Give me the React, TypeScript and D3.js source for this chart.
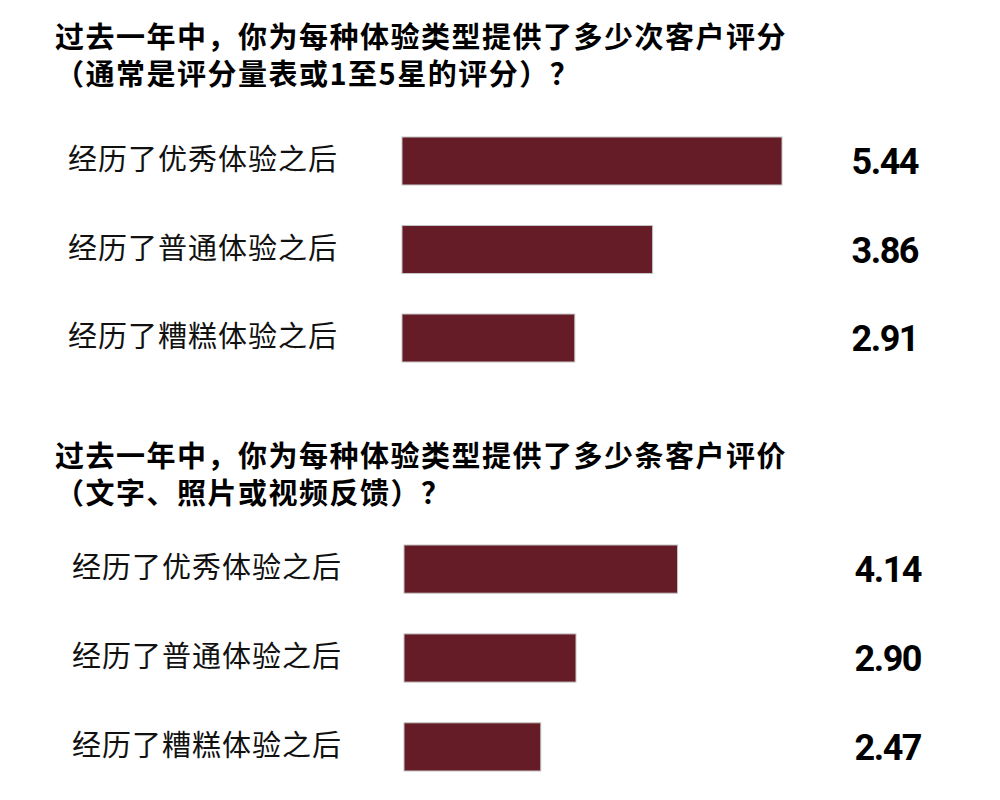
import { useRef, useEffect } from 'react';
import * as d3 from 'd3';

const categories = ['经历了优秀体验之后', '经历了普通体验之后', '经历了糟糕体验之后'];
const ratingValues = [5.44, 3.86, 2.91];
const reviewValues = [4.14, 2.90, 2.47];
const ratingTitle = ['过去一年中，你为每种体验类型提供了多少次客户评分', '（通常是评分量表或1至5星的评分）？'];
const reviewTitle = ['过去一年中，你为每种体验类型提供了多少条客户评价', '（文字、照片或视频反馈）？'];

const W = 1000;
const H = 800;
const barColor = '#661c27';
const cjk = '"Noto Sans CJK SC", "Noto Sans", sans-serif';

const App = () => {
    const svgRef = useRef<SVGSVGElement | null>(null);

    useEffect(() => {
        if (!svgRef.current) return;
        const svg = d3.select(svgRef.current);
        svg.selectAll('*').remove();

        // shared length scale for both panels
        const x = d3.scaleLinear().domain([0.8, 5.44]).range([0, 380]);

        const panels = [
            { title: ratingTitle, values: ratingValues, titleY: [37, 74], band: [137, 362], barX: 402, labelX: 68, valueX: 918 },
            { title: reviewTitle, values: reviewValues, titleY: [456, 493], band: [545, 771], barX: 404, labelX: 72, valueX: 921 },
        ];

        panels.forEach(p => {
            const g = svg.append('g');

            g.selectAll('.title')
                .data(p.title)
                .join('text')
                .attr('class', 'title')
                .attr('x', 55)
                .attr('y', (_, i) => p.titleY[i] + 11)
                .style('font-family', cjk)
                .style('font-weight', 700)
                .style('font-size', '29px')
                .style('letter-spacing', '1.5px')
                .attr('fill', '#000')
                .text(d => d);

            const y = d3.scaleBand<string>()
                .domain(categories)
                .range(p.band as [number, number])
                .paddingInner(0.458)
                .paddingOuter(0);

            const rows = categories.map((c, i) => ({ c, v: p.values[i] }));

            g.selectAll('.bar')
                .data(rows)
                .join('rect')
                .attr('class', 'bar')
                .attr('x', p.barX)
                .attr('y', d => y(d.c)!)
                .attr('width', d => x(d.v))
                .attr('height', y.bandwidth())
                .attr('fill', barColor)
                .attr('stroke', '#c4c4c4')
                .attr('stroke-width', 1);

            g.selectAll('.label')
                .data(rows)
                .join('text')
                .attr('class', 'label')
                .attr('x', p.labelX)
                .attr('y', d => y(d.c)! + y.bandwidth() / 2 - 2 + 11)
                .style('font-family', cjk)
                .style('font-size', '29px')
                .style('letter-spacing', '1px')
                .attr('fill', '#111')
                .text(d => d.c);

            g.selectAll('.value')
                .data(rows)
                .join('text')
                .attr('class', 'value')
                .attr('x', p.valueX)
                .attr('y', d => y(d.c)! + y.bandwidth() / 2 + 13)
                .attr('text-anchor', 'end')
                .style('font-family', 'Roboto, sans-serif')
                .style('font-weight', 700)
                .style('font-size', '36px')
                .style('letter-spacing', '-1.5px')
                .attr('fill', '#000')
                .text(d => d3.format('.2f')(d.v));
        });
    }, []);

    return (
        <svg ref={svgRef} width={W} height={H} style={{ display: 'block', margin: '-8px', background: '#fff' }} />
    );
};

export default App;
